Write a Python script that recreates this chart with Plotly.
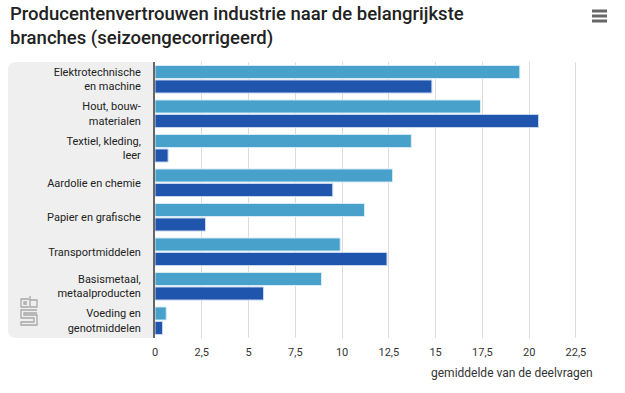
import plotly.graph_objects as go

categories = [
    "Elektrotechnische<br>en machine",
    "Hout, bouw-<br>materialen",
    "Textiel, kleding,<br>leer",
    "Aardolie en chemie",
    "Papier en grafische",
    "Transportmiddelen",
    "Basismetaal,<br>metaalproducten",
    "Voeding en<br>genotmiddelen",
]
series_a = [19.5, 17.4, 13.7, 12.7, 11.2, 9.9, 8.9, 0.6]
series_b = [14.8, 20.5, 0.7, 9.5, 2.7, 12.4, 5.8, 0.4]
tick_vals = [0, 2.5, 5, 7.5, 10, 12.5, 15, 17.5, 20, 22.5]
tick_text = ["0", "2,5", "5", "7,5", "10", "12,5", "15", "17,5", "20", "22,5"]

W, H = 625, 393
PL, PR, PT, PB = 155, 604, 62, 338  # plot area in pixels
L, R, T, B = PL, W - PR, PT, H - PB


def px(x):
    return (x - PL) / (PR - PL)


def py(y):
    return (PB - y) / (PB - PT)


FONT = "Roboto"

fig = go.Figure()
fig.add_trace(go.Bar(
    y=categories, x=series_a, orientation="h", name="a",
    marker=dict(color="#47a1ca", line=dict(color="#d8ecf6", width=1)),
))
fig.add_trace(go.Bar(
    y=categories, x=series_b, orientation="h", name="b",
    marker=dict(color="#1f55ad", line=dict(color="#c9d7ef", width=1)),
))

# grey label panel with rounded corners
r = 8
x0, x1, y0, y1 = 8, 155, 62, 338
path = (
    f"M {px(x0 + r)} {py(y0)} L {px(x1)} {py(y0)} L {px(x1)} {py(y1)} "
    f"L {px(x0 + r)} {py(y1)} Q {px(x0)} {py(y1)} {px(x0)} {py(y1 - r)} "
    f"L {px(x0)} {py(y0 + r)} Q {px(x0)} {py(y0)} {px(x0 + r)} {py(y0)} Z"
)
shapes = [dict(type="path", xref="paper", yref="paper", path=path,
               fillcolor="#efefef", line=dict(width=0), layer="below")]

# hamburger menu icon
for yy in (11, 16, 21):
    shapes.append(dict(type="line", xref="paper", yref="paper",
                       x0=px(592), x1=px(607), y0=py(yy), y1=py(yy),
                       line=dict(color="#666666", width=3)))

# simplified cbs logo
logo_col = "#a8a8a8"
logo_paths = [
    [(29, 299), (21, 299), (21, 307), (29, 307)],
    [(27, 302), (24, 302), (24, 304), (27, 304)],
    [(30, 296), (30, 307), (37, 307), (37, 300), (30, 300)],
    [(37, 310), (21, 310), (21, 318), (34, 318), (34, 322), (21, 322), (21, 325),
     (37, 325), (37, 315), (24, 315), (24, 313), (37, 313)],
]
for pts in logo_paths:
    d = "M " + " L ".join(f"{px(a)} {py(b)}" for a, b in pts)
    shapes.append(dict(type="path", xref="paper", yref="paper", path=d,
                       line=dict(color=logo_col, width=1.3)))

fig.update_layout(
    width=W, height=H,
    margin=dict(l=L, r=R, t=T, b=B),
    paper_bgcolor="white", plot_bgcolor="white",
    barmode="group", bargap=0.16, bargroupgap=0.1,
    showlegend=False,
    font=dict(family=FONT, color="#333333", size=11),
    shapes=shapes,
    xaxis=dict(
        range=[0, 24], tickvals=tick_vals, ticktext=tick_text,
        showgrid=True, gridcolor="#dcdcdc", gridwidth=1,
        zeroline=False, showline=False,
        tickfont=dict(size=11, color="#333333"),
        ticks="", ticklabelstandoff=6,
        fixedrange=True,
    ),
    yaxis=dict(
        autorange="reversed", showgrid=False, zeroline=False,
        showline=True, linecolor="#666666", linewidth=2,
        ticks="", ticklabelstandoff=10,
        tickfont=dict(size=11, color="#222222"),
        fixedrange=True,
    ),
    annotations=[
        dict(xref="paper", yref="paper", x=px(8), y=py(1), xanchor="left",
             yanchor="top", align="left", showarrow=False,
             text="Producentenvertrouwen industrie naar de belangrijkste<br>branches (seizoengecorrigeerd)",
             font=dict(size=18.5, color="#222222", family=FONT, weight=500)),
        dict(xref="paper", yref="paper", x=px(595), y=py(373), xanchor="right",
             yanchor="middle", showarrow=False,
             text="gemiddelde van de deelvragen",
             font=dict(size=12, color="#333333", family=FONT)),
    ],
)

fig.write_html("out.html", config={"displayModeBar": False},
               post_script="document.body.style.margin='0';")
